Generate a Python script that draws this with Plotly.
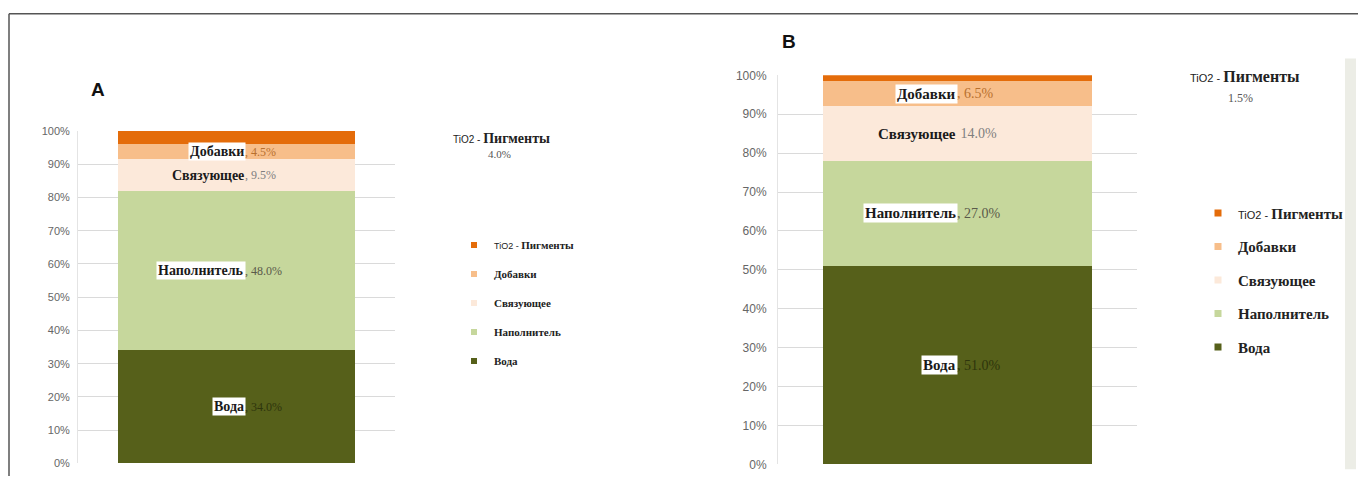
import plotly.graph_objects as go

W, H = 1358, 483

categories = ["Вода", "Наполнитель", "Связующее", "Добавки", "TiO2 - Пигменты"]
values_a = [34.0, 48.0, 9.5, 4.5, 4.0]
values_b = [51.0, 27.0, 14.0, 6.5, 1.5]
colors = ["#56601A", "#C6D79C", "#FCE9DA", "#F7BE8A", "#E46C0A"]
value_colors = ["#2E350C", "#5A5A4A", "#7F7F7F", "#B8702E", "#555555"]
tick_vals = [0, 10, 20, 30, 40, 50, 60, 70, 80, 90, 100]
tick_text = [f"{v}%" for v in tick_vals]

SERIF = "Liberation Serif"
SANS = "Liberation Sans"


def px_x(p):
    return p / W


def px_y(p):
    # empirical correction for vertical rendering offset
    t = (p - 5.3) / 0.976
    return 1 - t / H


def legend_name(cat, small):
    if cat.startswith("TiO2"):
        return (f"<span style='font-family:{SANS};font-size:{small}px;font-weight:normal'>TiO2 - </span>"
                f"<b>Пигменты</b>")
    return f"<b>{cat}</b>"


fig = go.Figure()

panels = [
    dict(vals=values_a, xa="x", ya="y", legend="legend", split=0.03, lab=14, val=12, small=9, sym=6,
         nocomma=[]),
    dict(vals=values_b, xa="x2", ya="y2", legend="legend2", split=0.0, lab=15, val=14, small=11, sym=7,
         nocomma=["Связующее"]),
]

for pi, p in enumerate(panels):
    for i, cat in enumerate(categories):
        fig.add_trace(go.Bar(
            x=[0], y=[p["vals"][i]], name=cat,
            marker=dict(color=colors[i], line=dict(width=0)),
            width=0.75, xaxis=p["xa"], yaxis=p["ya"],
            hoverinfo="skip", showlegend=False,
        ))
    # legend-only entries with small square swatches
    for i, cat in enumerate(categories):
        fig.add_trace(go.Scatter(
            x=[None], y=[None], mode="markers", name=legend_name(cat, p["small"]),
            marker=dict(symbol="square", size=p["sym"], color=colors[i]),
            xaxis=p["xa"], yaxis=p["ya"], legend=p["legend"],
            legendgroup=f"{pi}-{i}", legendrank=100 - i, showlegend=True, hoverinfo="skip",
        ))
    # inside labels
    cum = 0
    for i, cat in enumerate(categories):
        v = p["vals"][i]
        mid = cum + v / 2
        cum += v
        if cat.startswith("TiO2"):
            continue
        fig.add_annotation(
            x=p["split"], y=mid, xref=p["xa"], yref=p["ya"],
            text=f"<b>{cat}</b>", showarrow=False, xanchor="right", yanchor="middle",
            font=dict(family=SERIF, size=p["lab"], color="#1a1a1a"),
            bgcolor="white" if cat != "Связующее" else "rgba(0,0,0,0)",
            borderpad=1,
        )
        sep = " " if cat in p["nocomma"] else ", "
        fig.add_annotation(
            x=p["split"], y=mid, xref=p["xa"], yref=p["ya"],
            text=f"{sep}{v:.1f}%", showarrow=False, xanchor="left", yanchor="middle",
            font=dict(family=SERIF, size=p["val"], color=value_colors[i]),
            xshift=-3,
        )

# TiO2 outside labels
tio_a = values_a[4]
tio_b = values_b[4]
fig.add_annotation(x=px_x(451), y=px_y(137), xref="paper", yref="paper", xanchor="left", yanchor="middle",
                   showarrow=False,
                   text=f"<span style='font-family:{SANS};font-size:10px'>TiO2 - </span><b>Пигменты</b>",
                   font=dict(family=SERIF, size=14, color="#222"))
fig.add_annotation(x=px_x(486), y=px_y(153), xref="paper", yref="paper", xanchor="left", yanchor="middle",
                   showarrow=False, text=f"{tio_a:.1f}%", font=dict(family=SERIF, size=11, color="#555"))
fig.add_annotation(x=px_x(1188), y=px_y(75), xref="paper", yref="paper", xanchor="left", yanchor="middle",
                   showarrow=False,
                   text=f"<span style='font-family:{SANS};font-size:11px'>TiO2 - </span><b>Пигменты</b>",
                   font=dict(family=SERIF, size=16, color="#222"))
fig.add_annotation(x=px_x(1226), y=px_y(97), xref="paper", yref="paper", xanchor="left", yanchor="middle",
                   showarrow=False, text=f"{tio_b:.1f}%", font=dict(family=SERIF, size=12, color="#555"))

# panel letters
fig.add_annotation(x=px_x(89), y=px_y(88), xref="paper", yref="paper", xanchor="left", yanchor="middle",
                   showarrow=False, text="<b>A</b>", font=dict(family=SANS, size=19, color="#111"))
fig.add_annotation(x=px_x(780), y=px_y(40), xref="paper", yref="paper", xanchor="left", yanchor="middle",
                   showarrow=False, text="<b>B</b>", font=dict(family=SANS, size=19, color="#111"))

axis_common = dict(showgrid=False, zeroline=False, showticklabels=False, fixedrange=True)
yaxis_common = dict(range=[0, 100], tickvals=tick_vals, ticktext=tick_text, showgrid=True,
                    gridcolor="#DADADA", gridwidth=1, zeroline=False, showline=True,
                    linecolor="#E4E4E4", ticks="", fixedrange=True)

fig.update_layout(
    width=W, height=H,
    margin=dict(l=0, r=0, t=0, b=0),
    paper_bgcolor="white", plot_bgcolor="white",
    barmode="stack", bargap=0.25,
    xaxis=dict(domain=[px_x(78), px_x(395)], range=[-0.5, 0.5], anchor="y", **axis_common),
    yaxis=dict(domain=[px_y(464), px_y(130)], anchor="x", ticklabelstandoff=5,
               tickfont=dict(family=SANS, size=11, color="#666666"), **yaxis_common),
    xaxis2=dict(domain=[px_x(778), px_x(1137)], range=[-0.5, 0.5], anchor="y2", **axis_common),
    yaxis2=dict(domain=[px_y(465), px_y(74)], anchor="x2", ticklabelstandoff=8,
                tickfont=dict(family=SANS, size=12, color="#666666"), **yaxis_common),
    legend=dict(x=px_x(454), y=px_y(230), xanchor="left", yanchor="top",
                traceorder="grouped", tracegroupgap=10,
                font=dict(family=SERIF, size=11, color="#222"), bgcolor="rgba(0,0,0,0)",
                itemwidth=30),
    legend2=dict(x=px_x(1198), y=px_y(196), xanchor="left", yanchor="top",
                 traceorder="grouped", tracegroupgap=11,
                 font=dict(family=SERIF, size=15, color="#222"), bgcolor="rgba(0,0,0,0)",
                 itemwidth=30),
    showlegend=True,
    shapes=[
        dict(type="line", xref="paper", yref="paper", x0=px_x(9), x1=1, y0=px_y(12), y1=px_y(12),
             line=dict(color="#555", width=1.5)),
        dict(type="line", xref="paper", yref="paper", x0=px_x(9), x1=px_x(9), y0=px_y(12), y1=0,
             line=dict(color="#555", width=1.5)),
        dict(type="rect", xref="paper", yref="paper", x0=px_x(1345), x1=px_x(1356), y0=px_y(470), y1=px_y(57),
             fillcolor="#ECEDE6", line=dict(width=0), layer="below"),
    ],
)

fig.write_html("out.html")
